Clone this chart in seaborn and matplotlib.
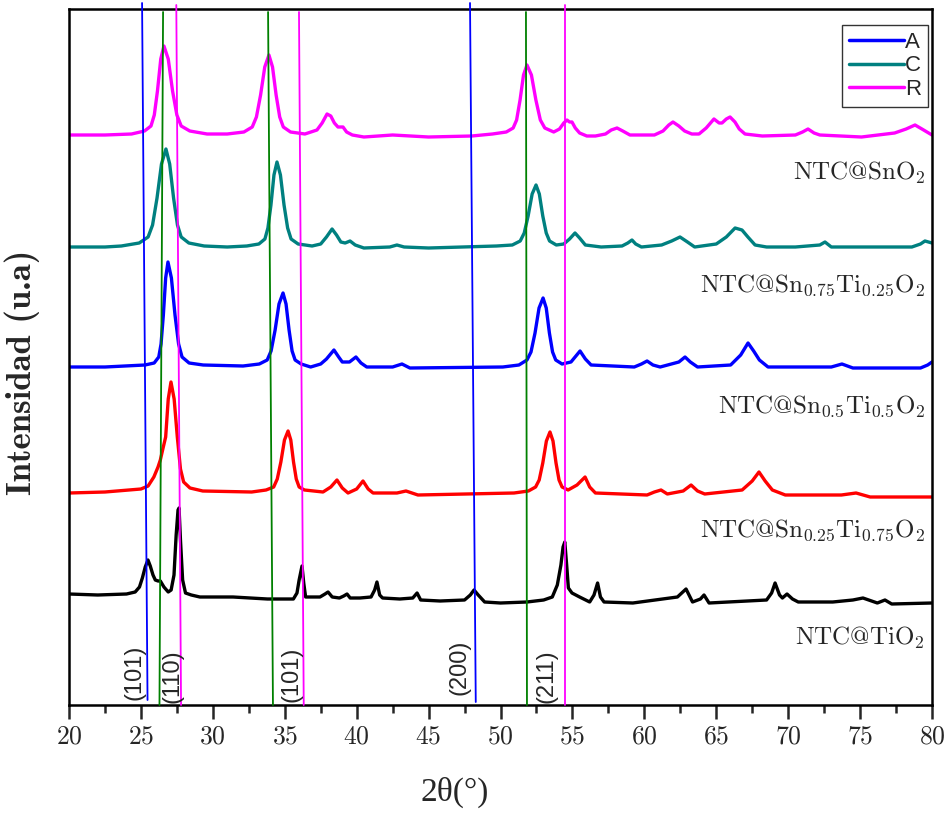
import numpy as np
import pandas as pd
import seaborn as sns
import matplotlib
matplotlib.use("Agg")
import matplotlib.pyplot as plt
from matplotlib.lines import Line2D

# ---------------- data (2theta in degrees, intensity in arbitrary units) -------------
tt_sno2 = [20.0, 22.5, 24.35, 25.25, 25.7, 25.93, 26.15, 26.38, 26.6, 26.9, 27.2, 27.5, 27.8,
           28.4, 29.6, 31.0, 32.16, 32.74, 33.03, 33.32, 33.61, 33.9, 34.15, 34.4, 34.65, 34.9,
           35.4, 36.4, 37.24, 37.6, 37.94, 38.2, 38.45, 38.7, 39.05, 39.3, 39.7, 40.5, 42.5,
           45.0, 48.0, 49.44, 50.4, 50.88, 51.12, 51.36, 51.6, 51.84, 52.15, 52.46, 52.77,
           53.08, 53.7, 54.1, 54.4, 54.62, 54.8, 54.97, 55.2, 55.5, 56.0, 56.6, 57.3, 57.7,
           58.1, 58.5, 59.0, 60.7, 61.3, 61.7, 61.99, 62.4, 62.8, 63.3, 63.8, 64.3, 64.84,
           65.2, 65.4, 65.7, 65.96, 66.3, 66.6, 67.0, 68.2, 70.5, 71.0, 71.38, 71.8, 72.2,
           75.1, 77.4, 78.2, 78.82, 79.3, 80.0]
i_sno2 = [570, 570, 571, 574, 579, 590, 614, 646, 659, 646, 614, 590, 579,
          574, 571, 571, 573, 578, 588, 610, 638, 650, 638, 610, 588, 578,
          573, 571, 575, 582, 591, 589, 582, 578, 578, 573, 570, 568, 570,
          568, 569, 571, 573, 577, 585, 605, 630, 640, 630, 605, 585,
          577, 573, 576, 582, 585, 583, 583, 577, 572, 569, 569, 571, 575,
          577, 574, 570, 570, 574, 580, 583, 579, 574, 571, 571, 577, 586,
          582, 582, 586, 588, 583, 576, 571, 569, 570, 573, 576, 572, 570,
          568, 572, 576, 580, 576, 570]

tt_s75 = [20.0, 22.5, 23.64, 24.88, 25.5, 25.81, 26.12, 26.43, 26.74, 27.0, 27.27, 27.54,
          27.8, 28.33, 29.4, 31.0, 32.36, 33.2, 33.62, 33.83, 34.04, 34.25, 34.46, 34.7,
          34.95, 35.2, 35.44, 35.93, 36.9, 37.5, 37.9, 38.29, 38.6, 38.9, 39.2, 39.54, 39.9,
          40.5, 42.3, 42.8, 43.3, 45.0, 49.72, 50.82, 51.37, 51.65, 51.92, 52.2, 52.47,
          52.7, 52.94, 53.18, 53.41, 53.88, 54.4, 54.8, 55.18, 55.5, 55.9, 57.0, 58.45,
          58.85, 59.14, 59.4, 59.8, 61.2, 61.9, 62.48, 63.0, 63.5, 65.0, 65.7, 66.31, 66.79,
          67.2, 67.7, 68.5, 70.5, 72.2, 72.56, 73.0, 78.6, 79.2, 79.51, 80.0]
i_s75 = [458, 458, 459, 462, 468, 480, 507, 541, 556, 541, 507, 480,
         468, 462, 459, 458, 459, 461, 466, 477, 500, 530, 543, 530,
         500, 477, 466, 461, 459, 461, 468, 476, 470, 463, 462, 464, 460,
         457, 458, 460, 458, 457, 459, 460, 464, 472, 489, 511, 520,
         511, 489, 472, 464, 460, 461, 466, 472, 467, 460, 458, 459,
         462, 465, 461, 458, 460, 464, 468, 463, 458, 461, 468, 477, 475,
         468, 460, 458, 458, 460, 463, 458, 458, 461, 464, 462]

tt_s50 = [20.0, 22.5, 25.28, 25.92, 26.24, 26.4, 26.56, 26.72, 26.88, 27.12, 27.37, 27.62,
          27.86, 28.35, 29.33, 32.1, 33.23, 33.78, 34.05, 34.33, 34.6, 34.88, 35.09, 35.3,
          35.51, 35.72, 36.14, 36.8, 37.5, 37.9, 38.42, 38.75, 39.0, 39.5, 39.95, 40.3,
          40.7, 42.5, 43.15, 43.7, 50.16, 51.28, 51.84, 52.12, 52.4, 52.68, 52.96, 53.18,
          53.4, 53.62, 53.84, 54.28, 54.9, 55.53, 55.9, 56.3, 59.3, 59.8, 60.19, 60.6,
          61.1, 62.4, 62.83, 63.2, 63.7, 66.0, 66.7, 67.21, 67.6, 68.0, 68.6, 73.0, 73.74,
          74.5, 79.2, 79.7, 80.0]
i_s50 = [338, 338, 340, 342, 348, 361, 390, 427, 443, 427, 390, 361,
         348, 342, 340, 339, 341, 345, 354, 375, 401, 412, 401, 375,
         354, 345, 341, 338, 341, 346, 355, 348, 343, 343, 348, 342,
         338, 338, 341, 337, 338, 340, 345, 353, 372, 397, 407, 397,
         372, 353, 345, 341, 343, 354, 346, 340, 338, 341, 344, 340,
         338, 343, 348, 343, 338, 340, 350, 362, 354, 345, 338, 338, 341,
         337, 337, 340, 343]

tt_s25 = [20.0, 22.5, 25.0, 25.5, 25.9, 26.19, 26.35, 26.54, 26.72, 26.9, 27.09, 27.31,
          27.53, 27.75, 27.97, 28.41, 29.3, 32.7, 33.7, 34.23, 34.48, 34.73, 34.98, 35.23,
          35.42, 35.61, 35.8, 36.0, 36.37, 37.66, 38.2, 38.63, 39.0, 39.4, 40.0, 40.44,
          40.8, 41.14, 42.8, 43.43, 44.26, 50.94, 51.94, 52.44, 52.69, 52.94, 53.19, 53.44,
          53.65, 53.86, 54.07, 54.28, 54.7, 55.32, 55.88, 56.2, 56.6, 60.19, 60.7, 61.16,
          61.6, 62.7, 63.25, 63.7, 64.2, 66.8, 67.5, 67.97, 68.4, 68.9, 69.8, 73.7, 74.72,
          75.7, 80.0]
i_s25 = [212, 213, 216, 219, 228, 238, 245, 257, 268, 306, 323, 306,
         268, 236, 223, 217, 214, 213, 215, 218, 226, 243, 265, 274,
         265, 243, 226, 218, 215, 213, 218, 225, 217, 212, 216, 224,
         216, 212, 212, 214, 210, 212, 214, 218, 225, 242, 264, 273,
         264, 242, 225, 218, 215, 220, 228, 218, 212, 210, 213, 215,
         211, 214, 220, 214, 211, 215, 224, 233, 224, 215, 210, 210, 212,
         208, 208]

tt_tio2 = [20.0, 22.0, 24.0, 24.6, 24.9, 25.1, 25.3, 25.49, 25.65, 25.84, 26.0, 26.19,
           26.35, 26.6, 26.9, 27.1, 27.3, 27.45, 27.58, 27.65, 27.75, 27.9, 28.1, 28.5,
           29.1, 31.4, 33.8, 35.6, 35.85, 36.0, 36.2, 36.32, 36.45, 37.45, 37.8, 38.01,
           38.3, 38.8, 39.1, 39.33, 39.55, 40.23, 41.0, 41.25, 41.41, 41.6, 41.8, 43.0,
           43.9, 44.2, 44.45, 45.8, 47.5, 47.9, 48.16, 48.45, 48.9, 50.0, 51.84, 53.0,
           53.6, 53.95, 54.2, 54.35, 54.47, 54.6, 54.72, 54.97, 55.5, 56.2, 56.5, 56.75,
           56.95, 57.2, 59.2, 62.3, 62.9, 63.35, 63.9, 64.15, 64.5, 68.5, 68.85, 69.09,
           69.4, 69.6, 69.92, 70.3, 70.7, 73.1, 74.5, 75.2, 75.8, 76.2, 76.73, 77.2, 80.0]
i_tio2 = [111, 110, 111, 113, 118, 127, 138, 145, 139, 130, 125, 124,
          124, 118, 113, 115, 130, 170, 195, 197, 165, 125, 112, 110,
          108, 108, 106, 106, 112, 125, 139, 122, 108, 108, 111, 113,
          108, 107, 109, 111, 107, 107, 108, 115, 123, 110, 107, 106,
          107, 112, 105, 104, 105, 110, 115, 110, 103, 102, 103, 105,
          108, 120, 140, 158, 163, 140, 117, 112, 108, 103, 110, 122,
          108, 103, 102, 108, 116, 103, 106, 110, 102, 105, 112, 122,
          110, 107, 111, 106, 103, 103, 105, 107, 104, 102, 105, 101, 102]

samples = ["NTC@SnO2", "NTC@Sn0.75Ti0.25O2", "NTC@Sn0.5Ti0.5O2", "NTC@Sn0.25Ti0.75O2", "NTC@TiO2"]
sample_labels = [r"NTC@SnO$_{2}$", r"NTC@Sn$_{0.75}$Ti$_{0.25}$O$_{2}$",
                 r"NTC@Sn$_{0.5}$Ti$_{0.5}$O$_{2}$", r"NTC@Sn$_{0.25}$Ti$_{0.75}$O$_{2}$",
                 r"NTC@TiO$_{2}$"]
sample_colors = ["#ff00ff", "#008080", "#0000ff", "#ff0000", "#000000"]
sample_tt = [tt_sno2, tt_s75, tt_s50, tt_s25, tt_tio2]
sample_i = [i_sno2, i_s75, i_s50, i_s25, i_tio2]
label_baseline = [525, 413, 292, 168, 60]

# reference phase lines (A, C, R): 2theta at top and at bottom of each drawn line
ref_phase = ["A", "A", "C", "C", "C", "R", "R", "R"]
ref_top = [25.08, 47.88, 26.54, 33.84, 51.77, 27.46, 35.99, 54.49]
ref_bottom = [25.46, 48.28, 26.29, 34.18, 51.84, 27.79, 36.32, 54.49]
ref_ytop = [702, 702, 693, 693, 693, 700, 693, 700]
ref_ybot = [5, 3, 0, 0, 0, 0, 0, 0]
phase_line_color = {"A": "#0000ff", "C": "#008000", "R": "#ff00ff"}
phase_legend_color = {"A": "#0000ff", "C": "#008080", "R": "#ff00ff"}

hkl_text = ["(101)", "(110)", "(101)", "(200)", "(211)"]
hkl_tt = [24.52, 27.23, 35.44, 47.12, 53.23]
hkl_y = [5, 2, 3, 10, 2]

# ---------------- long-form table ----------------
frames = []
for name, tt, ii in zip(samples, sample_tt, sample_i):
    frames.append(pd.DataFrame({"2theta": tt, "I": ii, "sample": name}))
df = pd.concat(frames, ignore_index=True)

sns.set_style("ticks")
plt.rcParams["font.family"] = ["cmr10", "DejaVu Serif"]
plt.rcParams["mathtext.fontset"] = "cm"
plt.rcParams["axes.formatter.use_mathtext"] = True

fig = plt.figure(figsize=(9.47, 8.15), dpi=100)
ax = fig.add_axes([69 / 947, 110 / 815, 863 / 947, 696 / 815])

for name, col in zip(samples, sample_colors):
    sub = df[df["sample"] == name]
    sns.lineplot(data=sub, x="2theta", y="I", color=col, lw=2.4, ax=ax,
                 estimator=None, sort=False, legend=False, zorder=2)

for ph, xt, xb, yt, yb in zip(ref_phase, ref_top, ref_bottom, ref_ytop, ref_ybot):
    ax.plot([xb, xt], [yb, yt], color=phase_line_color[ph], lw=1.3, zorder=3, clip_on=False)

for t, x, y in zip(hkl_text, hkl_tt, hkl_y):
    ax.text(x, y, t, rotation=90, ha="center", va="bottom", fontsize=17,
            family="Liberation Sans", zorder=4)

for lab, yb in zip(sample_labels, label_baseline):
    ax.text(0.992, yb, lab, transform=ax.get_yaxis_transform(), ha="right",
            va="baseline", fontsize=18)

handles = [Line2D([0], [0], color=phase_legend_color[p], lw=2.5) for p in ["A", "C", "R"]]
leg = ax.legend(handles, ["A", "C", "R"], loc="upper right", bbox_to_anchor=(0.9954, 0.977),
                frameon=True, fancybox=False, shadow=False, handlelength=2.5,
                handletextpad=0.05, labelspacing=0.12, borderpad=0.3, borderaxespad=0,
                prop={"family": "Liberation Sans", "size": 16})
leg.get_frame().set_edgecolor("black")
leg.get_frame().set_linewidth(1.0)

ax.set_xlim(20, 80)
ax.set_ylim(0, 696)
ax.set_xticks(np.arange(20, 81, 5))
ax.set_xticks(np.arange(22.5, 80, 5), minor=True)
ax.set_yticks([])
ax.tick_params(axis="x", which="major", direction="out", length=10, width=1.8,
               labelsize=18.5, pad=4, top=False)
ax.tick_params(axis="x", which="minor", direction="out", length=6, width=1.8, top=False)
for s in ax.spines.values():
    s.set_linewidth(1.8)
    s.set_color("black")
    s.set_visible(True)

ax.set_xlabel("2θ(°)", fontsize=24, family="Liberation Serif")
ax.xaxis.set_label_coords(0.447, -0.103)
ax.set_ylabel("Intensidad (u.a)", fontsize=25, family=["cmb10", "DejaVu Serif"])
ax.yaxis.set_label_coords(-0.034, 0.478)

fig.savefig("out.png", dpi=100)
